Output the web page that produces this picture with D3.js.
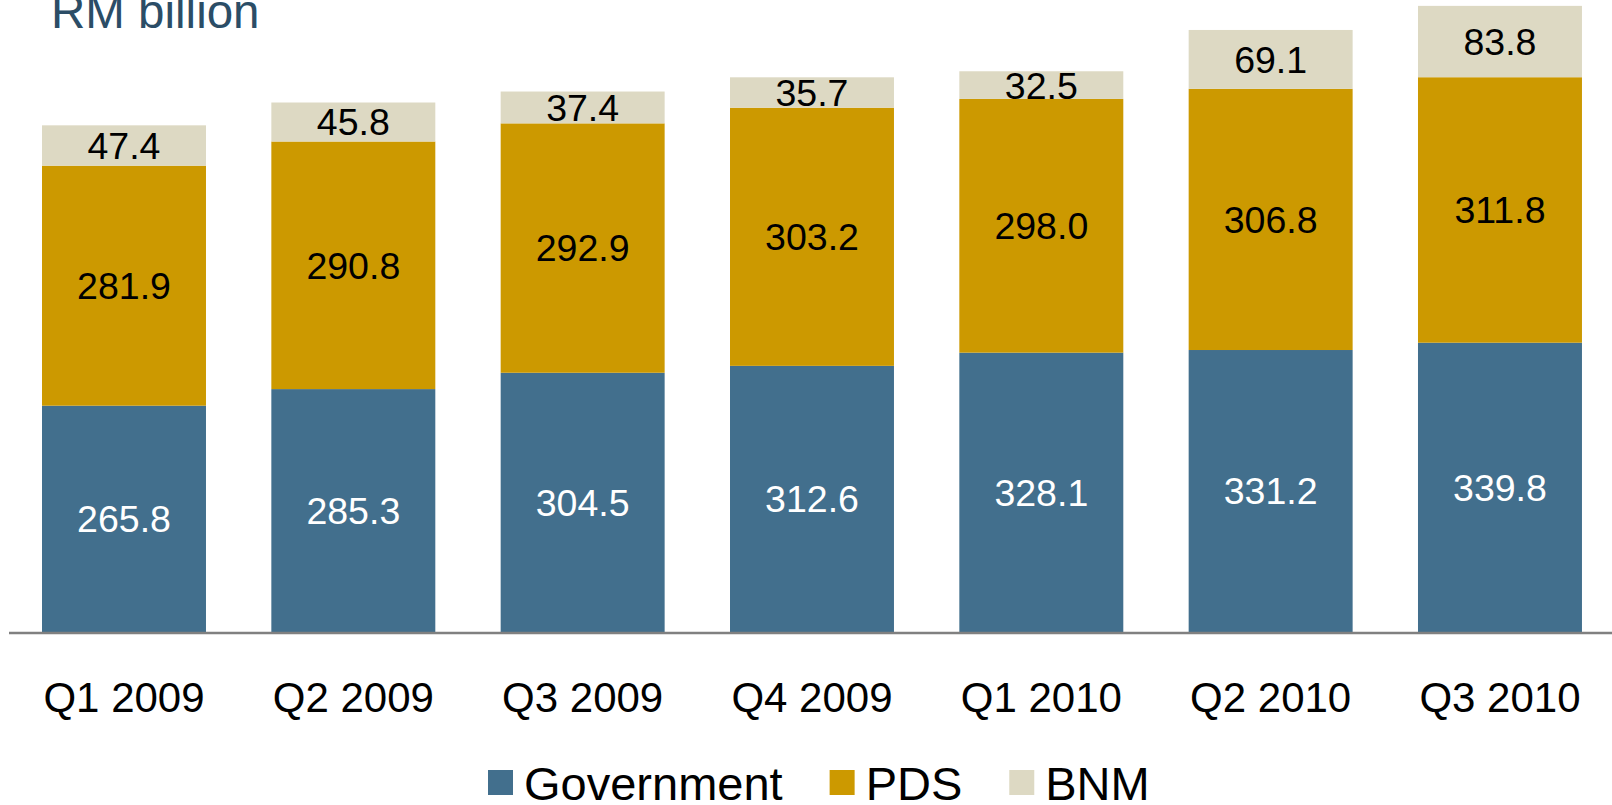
<!DOCTYPE html>
<html>
<head>
<meta charset="utf-8">
<script src="https://cdn.jsdelivr.net/npm/d3@7"></script>
<style>
  html, body { margin: 0; padding: 0; background: #ffffff; }
  svg { display: block; font-family: "Liberation Sans", Arial, sans-serif; }
</style>
</head>
<body>
<svg id="chart" width="1612" height="805"></svg>
<script>
const categories = ["Q1 2009", "Q2 2009", "Q3 2009", "Q4 2009", "Q1 2010", "Q2 2010", "Q3 2010"];
const government = [265.8, 285.3, 304.5, 312.6, 328.1, 331.2, 339.8];
const pds        = [281.9, 290.8, 292.9, 303.2, 298.0, 306.8, 311.8];
const bnm        = [47.4, 45.8, 37.4, 35.7, 32.5, 69.1, 83.8];
const seriesNames = ["Government", "PDS", "BNM"];
const seriesColors = ["#426f8d", "#cc9900", "#ddd9c3"];
const labelColors = ["#ffffff", "#000000", "#000000"];
const unitLabel = "RM billion";

const svg = d3.select("#chart");
const W = 1612, H = 805;
const baseY = 632;

const rows = categories.map((c, i) => ({ cat: c, Government: government[i], PDS: pds[i], BNM: bnm[i] }));
const stack = d3.stack().keys(seriesNames)(rows);

const x = d3.scaleBand()
  .domain(categories)
  .range([9.33, 9.33 + 7 * 229.33])
  .paddingInner(0.285)
  .paddingOuter(0.1425);

const y = d3.scaleLinear().domain([0, 742.3]).range([baseY, 0]);

const fsLabel = 37.5;

stack.forEach((layer, si) => {
  const g = svg.append("g");
  g.selectAll("rect").data(layer).enter().append("rect")
    .attr("x", d => x(d.data.cat))
    .attr("y", d => y(d[1]))
    .attr("width", x.bandwidth())
    .attr("height", d => y(d[0]) - y(d[1]))
    .attr("fill", seriesColors[si]);
  g.selectAll("text").data(layer).enter().append("text")
    .attr("x", d => x(d.data.cat) + x.bandwidth() / 2)
    .attr("y", d => (y(d[0]) + y(d[1])) / 2 + 0.358 * fsLabel)
    .attr("text-anchor", "middle")
    .attr("font-size", fsLabel)
    .attr("fill", labelColors[si])
    .text(d => (d[1] - d[0]).toFixed(1));
});

// x axis
const xAxis = d3.axisBottom(x).tickSize(0).tickPadding(0);
const axG = svg.append("g").attr("transform", `translate(0,${baseY + 1})`).call(xAxis);
axG.select(".domain").remove();
axG.selectAll("text")
  .attr("y", 78.7)
  .attr("dy", null)
  .attr("font-size", 42)
  .attr("font-family", "'Liberation Sans', Arial, sans-serif")
  .attr("fill", "#000000");
svg.append("line")
  .attr("x1", 9).attr("x2", W)
  .attr("y1", baseY + 1).attr("y2", baseY + 1)
  .attr("stroke", "#808080").attr("stroke-width", 2.5);

// title
svg.append("text")
  .attr("x", 51).attr("y", 27.5)
  .attr("font-size", 47.5)
  .attr("fill", "#2b4d66")
  .text(unitLabel);

// legend
const legend = svg.append("g");
let lx = 488;
seriesNames.forEach((name, i) => {
  legend.append("rect")
    .attr("x", lx).attr("y", 770).attr("width", 25).attr("height", 25)
    .attr("fill", seriesColors[i]);
  const t = legend.append("text")
    .attr("x", lx + 36).attr("y", 800)
    .attr("font-size", 47)
    .attr("fill", "#000000")
    .text(name);
  lx = lx + 36 + t.node().getComputedTextLength() + 47;
});
</script>
</body>
</html>
